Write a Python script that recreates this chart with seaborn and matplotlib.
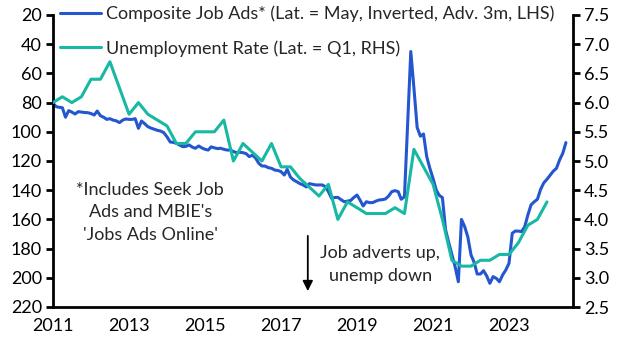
import numpy as np
import pandas as pd
import seaborn as sns
import matplotlib.pyplot as plt

sns.set_style('white')
plt.rcParams['font.family'] = ['Lato', 'DejaVu Sans']

# Composite job ads index (LHS, inverted), monthly Jan 2011 - Jul 2024
ads_2011 = [80.5, 82.8, 83.2, 83.5, 90.0, 85.5, 86.5, 87.8, 86.2, 86.5, 86.8, 86.9]
ads_2012 = [87.5, 88.5, 85.8, 89.0, 90.0, 91.5, 91.0, 92.0, 92.5, 93.7, 92.0, 91.2]
ads_2013 = [91.5, 91.5, 91.0, 97.6, 92.6, 94.5, 96.5, 97.5, 98.3, 99.0, 99.5, 100.6]
ads_2014 = [103.5, 107.0, 107.2, 107.9, 109.0, 110.2, 110.0, 109.0, 110.5, 111.3, 109.7, 111.0]
ads_2015 = [112.0, 112.5, 110.3, 111.0, 111.5, 111.3, 112.0, 112.5, 112.5, 113.5, 114.3, 114.0]
ads_2016 = [114.3, 115.0, 117.0, 116.0, 118.0, 121.6, 123.4, 123.5, 124.6, 125.0, 126.2, 126.5]
ads_2017 = [127.3, 129.6, 125.7, 131.0, 133.0, 134.2, 135.5, 136.4, 137.8, 135.5, 136.0, 136.4]
ads_2018 = [136.4, 136.4, 137.5, 141.0, 145.5, 145.0, 144.9, 146.5, 147.9, 147.5, 147.0, 145.0]
ads_2019 = [143.3, 147.0, 150.8, 147.9, 148.5, 148.5, 147.5, 146.7, 146.5, 146.0, 144.0, 141.0]
ads_2020 = [140.3, 141.0, 146.2, 144.5, 95.0, 45.0, 70.0, 97.0, 103.0, 101.5, 117.0, 125.0]
ads_2021 = [132.0, 140.0, 143.5, 145.1, 167.0, 176.0, 184.0, 192.4, 202.7, 160.0, 165.0, 172.0]
ads_2022 = [184.4, 189.6, 197.4, 197.4, 195.1, 198.8, 203.8, 199.2, 200.4, 202.7, 198.0, 194.7]
ads_2023 = [190.0, 169.5, 168.0, 168.0, 168.4, 165.0, 157.0, 150.0, 147.9, 146.2, 139.4, 135.0]
ads_2024 = [132.5, 129.6, 127.0, 125.0, 119.3, 114.7, 107.4]

job_ads = (ads_2011 + ads_2012 + ads_2013 + ads_2014 + ads_2015 + ads_2016 + ads_2017
           + ads_2018 + ads_2019 + ads_2020 + ads_2021 + ads_2022 + ads_2023 + ads_2024)
ads_dates = pd.date_range('2011-01-01', periods=len(job_ads), freq='MS')

# Unemployment rate (RHS), quarterly Q1 2011 - Q1 2024
unemp = [6.0, 6.1, 6.0, 6.1,
         6.4, 6.4, 6.7, 6.25,
         5.8, 6.0, 5.8, 5.7,
         5.6, 5.3, 5.3, 5.5,
         5.5, 5.5, 5.7, 5.0,
         5.3, 5.15, 5.0, 5.3,
         4.9, 4.9, 4.7, 4.55,
         4.4, 4.6, 4.0, 4.3,
         4.2, 4.1, 4.1, 4.1,
         4.2, 4.1, 5.2, 4.9,
         4.6, 4.0, 3.3, 3.2,
         3.2, 3.3, 3.3, 3.4,
         3.4, 3.6, 3.9, 4.0,
         4.3]
unemp_dates = pd.date_range('2011-01-01', periods=len(unemp), freq='QS')

year_ticks = [2011, 2013, 2015, 2017, 2019, 2021, 2023]

blue = '#2356cf'
teal = '#17b8a4'
fs = 13

fig = plt.figure(figsize=(6.28, 3.52), dpi=100)
ax = fig.add_axes([53 / 628, 1 - 307 / 352, 520 / 628, 292 / 352])

sns.lineplot(x=ads_dates, y=job_ads, ax=ax, color=blue, linewidth=2.2,
             label='Composite Job Ads* (Lat. = May, Inverted, Adv. 3m, LHS)', legend=False)
ax.set_ylim(220, 20)
ax.set_yticks(range(20, 221, 20))

ax2 = ax.twinx()
sns.lineplot(x=unemp_dates, y=unemp, ax=ax2, color=teal, linewidth=2.2,
             label='Unemployment Rate (Lat. = Q1, RHS)', legend=False)
ax2.set_ylim(2.5, 7.5)
ax2.set_yticks(np.arange(2.5, 7.51, 0.5))
ax2.set_yticklabels([f'{v:.1f}' for v in np.arange(2.5, 7.51, 0.5)])

ax.set_xlim(pd.Timestamp('2011-01-01'), pd.Timestamp('2024-09-07'))
ax.set_xticks(pd.to_datetime([f'{y}-01-01' for y in year_ticks]))
ax.set_xticklabels([str(y) for y in year_ticks])
ax.set_xlabel('')
ax.set_ylabel('')
ax2.set_ylabel('')

for a in (ax, ax2):
    for side in ('left', 'right', 'bottom'):
        a.spines[side].set_linewidth(2)
        a.spines[side].set_color('black')
    a.spines['top'].set_visible(False)
    a.tick_params(direction='out', length=5, width=2, color='black',
                  labelsize=fs, labelcolor='black', pad=3)
ax.spines['right'].set_visible(False)
ax2.spines['left'].set_visible(False)
ax2.spines['bottom'].set_visible(False)

h1, l1 = ax.get_legend_handles_labels()
h2, l2 = ax2.get_legend_handles_labels()
ax2.legend(h1 + h2, l1 + l2, loc='upper left', bbox_to_anchor=(-0.008, 1.07),
           frameon=False, fontsize=fs, handlelength=2.3, handletextpad=0.25,
           labelspacing=1.0, borderaxespad=0.2)

ax.text(0.187, 0.325, "*Includes Seek Job\nAds and MBIE's\n'Jobs Ads Online'",
        transform=ax.transAxes, ha='center', va='center', fontsize=fs,
        linespacing=1.5)
ax.annotate('', xy=(0.49, 0.045), xytext=(0.49, 0.253), xycoords='axes fraction',
            arrowprops=dict(arrowstyle='-|>', color='black', lw=1.3,
                            mutation_scale=15))
ax.text(0.629, 0.145, 'Job adverts up,\nunemp down', transform=ax.transAxes,
        ha='center', va='center', fontsize=fs, linespacing=1.5)

fig.savefig('out.png', dpi=100)
